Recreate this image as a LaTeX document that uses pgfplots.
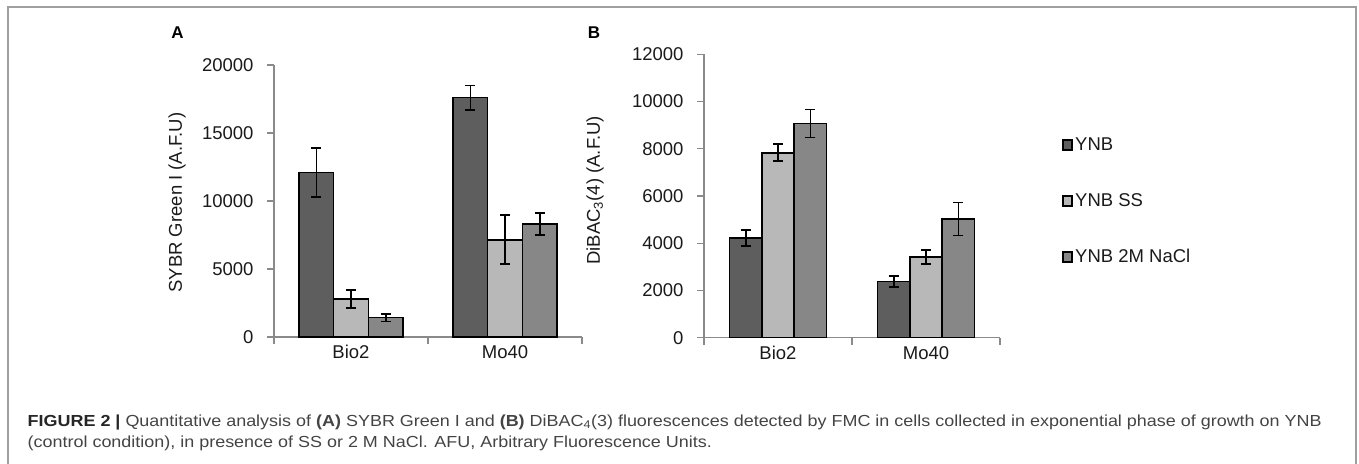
\documentclass[border=0pt]{standalone}
\usepackage{pgfplots}
\pgfplotsset{compat=1.18}
\usepackage{fontspec}
\setmainfont{Liberation Sans}
\definecolor{cA}{HTML}{5E5E5E}
\definecolor{cB}{HTML}{B8B8B8}
\definecolor{cC}{HTML}{878787}
\definecolor{axgray}{HTML}{8A8A8A}
\definecolor{txt}{HTML}{1A1A1A}
\definecolor{captxt}{HTML}{444444}
\pgfplotsset{
  mystyle/.style={
    scale only axis,
    ybar=0pt,
    axis x line*=bottom,
    axis y line*=left,
    axis line style={-,draw=axgray,line width=1.3pt},
    tick style={draw=axgray,line width=1.3pt},
    tick align=outside,
    major tick length=7pt,
    xmin=-0.5,xmax=1.5,ymin=0,
    xtick={-0.5,0.5,1.5},
    xticklabels={,,},
    extra x ticks={0,1},
    extra x tick labels={Bio2,Mo40},
    extra x tick style={major tick length=0pt},
    scaled y ticks=false,
    /pgf/number format/assume math mode=true,
    /pgf/number format/1000 sep={},
    ticklabel style={font=\fontsize{18.5}{20}\selectfont,text=txt},
    yticklabel style={xshift=-10pt},
    xticklabel style={yshift=-5pt},
    label style={font=\fontsize{18.5}{20}\selectfont,text=txt},
    clip=false,
    error bars/y dir=both,
    error bars/y explicit,
    error bars/error bar style={black,line width=1.6pt},
    error bars/error mark options={rotate=90,mark size=5pt,line width=1.6pt,black},
    every axis plot/.append style={draw=black,line width=1.6pt},
  }
}
\newsavebox\capA
\newsavebox\capB
\begin{document}
\sbox\capA{\fontsize{16}{18}\selectfont\color{captxt}\textbf{\color{black!85}FIGURE 2 |} Quantitative analysis of \textbf{(A)} SYBR Green I and \textbf{(B)} DiBAC\textsubscript{4}(3) fluorescences detected by FMC in cells collected in exponential phase of growth on YNB}%
\sbox\capB{\fontsize{16}{18}\selectfont\color{captxt}(control condition), in presence of SS or 2 M NaCl. AFU, Arbitrary Fluorescence Units.}%
\pgfmathsetmacro\capfac{1294/\wd\capA}%
\begin{tikzpicture}
\path[use as bounding box] (0pt,0pt) rectangle (1359pt,463pt);
\draw[color=gray!75,line width=1.6pt] (8pt,-10pt) -- (8pt,456pt) -- (1356pt,456pt) -- (1356pt,-10pt);
\node[font=\bfseries\fontsize{17}{18}\selectfont,text=black] at (177.5pt,430pt) {A};
\node[font=\bfseries\fontsize{17}{18}\selectfont,text=black] at (594pt,430pt) {B};
% Panel A
\begin{axis}[mystyle,
  at={(274pt,126pt)},anchor=south west,
  width=308pt,height=272pt,
  ymax=20000,ytick={0,5000,10000,15000,20000},
  bar width=34.7pt,
  ylabel={SYBR Green I (A.F.U)},
  ylabel style={at={(axis description cs:-0.315,0.494)},anchor=center},
]
\addplot[fill=cA] coordinates {(0,12100) +- (0,1800) (1,17600) +- (0,900)};
\addplot[fill=cB] coordinates {(0,2800) +- (0,650) (1,7150) +- (0,1800)};
\addplot[fill=cC] coordinates {(0,1430) +- (0,280) (1,8300) +- (0,800)};
\end{axis}
% Panel B
\begin{axis}[mystyle,
  at={(704pt,125.3pt)},anchor=south west,
  width=296pt,height=283.4pt,
  ymax=12000,ytick={0,2000,...,12000},
  bar width=32.3pt,
  ylabel={DiBAC\textsubscript{3}(4) (A.F.U)},
  ylabel style={at={(axis description cs:-0.368,0.52)},anchor=center},
  legend style={at={(axis description cs:1.2,0.72)},anchor=north west,draw=none,fill=none,
    font=\fontsize{18.5}{20}\selectfont,text=txt,row sep=37.5pt,
    /tikz/every even column/.append style={column sep=2pt}},
  legend cell align=left,
  legend image code/.code={\draw[#1,draw=black,line width=1.8pt] (0pt,-5pt) rectangle (9pt,5pt);},
]
\addplot[fill=cA] coordinates {(0,4220) +- (0,330) (1,2380) +- (0,240)};
\addplot[fill=cB] coordinates {(0,7830) +- (0,360) (1,3420) +- (0,300)};
\addplot[fill=cC] coordinates {(0,9070) +- (0,600) (1,5020) +- (0,700)};
\legend{YNB,YNB SS,YNB 2M NaCl}
\end{axis}
% Caption
\node[anchor=base west,inner sep=0] at (27.5pt,37pt) {\scalebox{\capfac}[1]{\usebox\capA}};
\node[anchor=base west,inner sep=0] at (27.5pt,15.3pt) {\scalebox{\capfac}[1]{\usebox\capB}};
\end{tikzpicture}
\end{document}
